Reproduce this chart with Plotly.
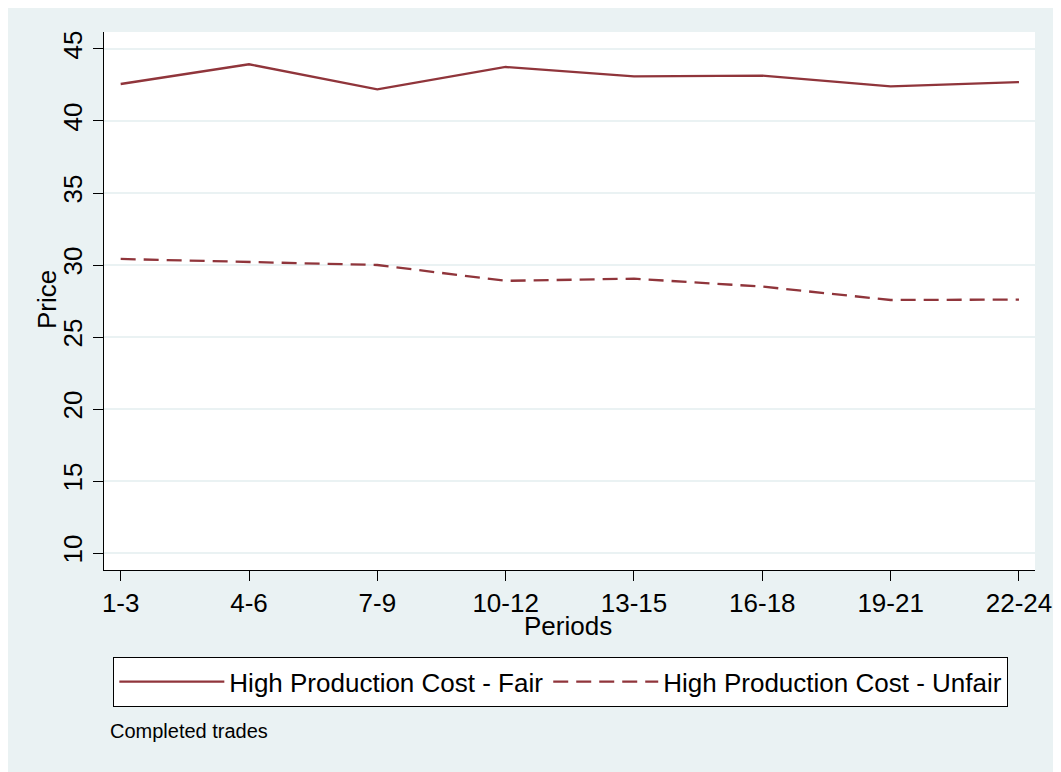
import plotly.graph_objects as go

periods = ["1-3", "4-6", "7-9", "10-12", "13-15", "16-18", "19-21", "22-24"]
fair = [42.57, 43.94, 42.2, 43.75, 43.1, 43.15, 42.4, 42.7]
unfair = [30.42, 30.2, 30.0, 28.9, 29.05, 28.5, 27.57, 27.6]
y_ticks = [10, 15, 20, 25, 30, 35, 40, 45]

line_color = "#90353b"
bg = "#eaf2f3"
idx = list(range(len(periods)))

fig = go.Figure()
fig.add_trace(go.Scatter(x=idx, y=fair, mode="lines", name="High Production Cost - Fair",
                         line=dict(color=line_color, width=2.3)))
fig.add_trace(go.Scatter(x=idx, y=unfair, mode="lines", name="High Production Cost - Unfair",
                         line=dict(color=line_color, width=2.3, dash="15px,8px")))

fig.update_layout(
    width=1061, height=772,
    margin=dict(l=96, r=34, t=24, b=210),
    paper_bgcolor=bg,
    plot_bgcolor="white",
    font=dict(family="Liberation Sans, Arial, sans-serif", color="black", size=26),
    showlegend=True,
    legend=dict(orientation="h", x=0.0097, xanchor="left", y=-0.1617, yanchor="top",
                bordercolor="black", borderwidth=1.3, bgcolor="white",
                font=dict(size=26), itemwidth=105, tracegroupgap=0),
    annotations=[
        dict(text="Price", xref="paper", yref="paper", x=-57/931, y=(570-300)/538,
             textangle=-90, showarrow=False, font=dict(size=26), xanchor="center", yanchor="middle"),
        dict(text="Periods", xref="paper", yref="paper", x=(568-104)/931, y=(570-626)/538,
             showarrow=False, font=dict(size=26), xanchor="center", yanchor="middle"),
        dict(text="Completed trades", xref="paper", yref="paper", x=4/931, y=(570-731)/538,
             showarrow=False, font=dict(size=20), xanchor="left", yanchor="middle"),
    ],
)
fig.update_xaxes(
    range=[-0.13, 7.125], tickmode="array", tickvals=idx, ticktext=periods,
    showgrid=False, zeroline=False, showline=True, linecolor="black", linewidth=1.3,
    ticks="outside", ticklen=10, tickcolor="black", tickwidth=1.3,
    tickfont=dict(size=26),
)
fig.update_yaxes(
    range=[8.82, 46.18], tickmode="array", tickvals=y_ticks,
    showgrid=True, gridcolor=bg, gridwidth=2, zeroline=False,
    showline=True, linecolor="black", linewidth=1.3,
    ticks="outside", ticklen=10, tickcolor="black", tickwidth=1.3,
    tickfont=dict(size=26), tickangle=-90,
)

fig.write_html("out.html")
